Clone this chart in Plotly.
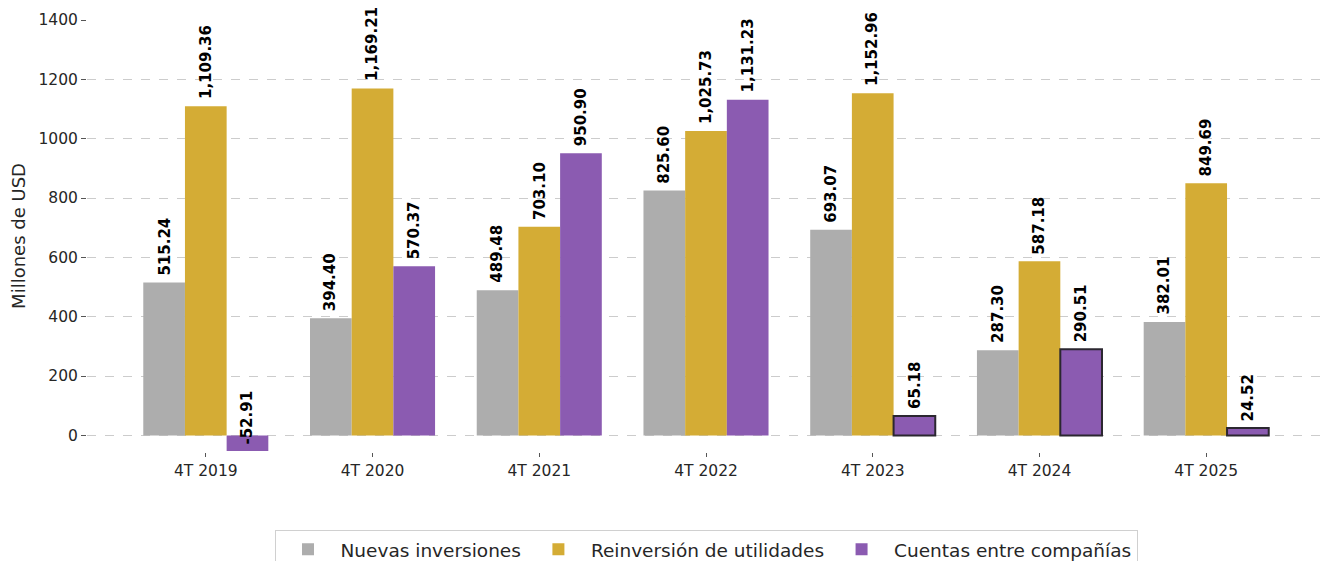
import plotly.graph_objects as go

categories = ["4T 2019", "4T 2020", "4T 2021", "4T 2022", "4T 2023", "4T 2024", "4T 2025"]
nuevas = [515.24, 394.40, 489.48, 825.60, 693.07, 287.30, 382.01]
reinversion = [1109.36, 1169.21, 703.10, 1025.73, 1152.96, 587.18, 849.69]
cuentas = [-52.91, 570.37, 950.90, 1131.23, 65.18, 290.51, 24.52]
outlined = [False, False, False, False, True, True, True]

series = [
    ("Nuevas inversiones", nuevas, "#adadad"),
    ("Reinversión de utilidades", reinversion, "#d4ac35"),
    ("Cuentas entre compañías", cuentas, "#8b5bb1"),
]

fig = go.Figure()
for j, (name, vals, col) in enumerate(series):
    if j == 2:
        lw = [2 if o else 0 for o in outlined]
        lc = ["#2b2730" if o else col for o in outlined]
    else:
        lw = 0
        lc = col
    fig.add_trace(go.Bar(
        x=categories, y=vals, name=name,
        marker=dict(color=col, line=dict(color=lc, width=lw)),
    ))

annotations = []
for j, (name, vals, col) in enumerate(series):
    off = (j - 1) * 0.25
    for i, v in enumerate(vals):
        annotations.append(dict(
            x=i + off, y=v, xref="x", yref="y",
            text=f"{v:,.2f}", textangle=-90, showarrow=False,
            yanchor="bottom", xanchor="center", yshift=5,
            font=dict(family="DejaVu Sans", size=15, color="#000000", weight="bold"),
        ))

fig.update_layout(
    width=1323, height=553,
    margin=dict(l=79, r=6, t=12, b=109, autoexpand=False),
    paper_bgcolor="white", plot_bgcolor="white",
    barmode="group", bargap=0.25, bargroupgap=0,
    font=dict(family="DejaVu Sans", size=15, color="#262626"),
    annotations=annotations,
    showlegend=True,
    legend=dict(
        orientation="h", x=0.5, xanchor="center", y=-0.18, yanchor="top",
        font=dict(size=18.5, color="#262626"),
        bordercolor="#d0d0d0", borderwidth=1, bgcolor="white",
        itemwidth=55, valign="top",
    ),
    xaxis=dict(
        range=[-0.7125, 6.7125], showgrid=False, showline=False, zeroline=False,
        ticks="outside", ticklen=4, tickcolor="#555555", tickwidth=1,
        tickfont=dict(size=15.5, color="#262626"),
    ),
    yaxis=dict(
        range=[-56, 1400], tickvals=[0, 200, 400, 600, 800, 1000, 1200, 1400],
        showgrid=True, gridcolor="#cccccc", griddash="dash", gridwidth=1,
        showline=False, zeroline=False,
        ticks="outside", ticklen=5, tickcolor="#555555", tickwidth=1,
        tickfont=dict(size=15.5, color="#262626"),
        title=dict(text="Millones de USD", font=dict(size=18, color="#262626"), standoff=12),
    ),
)

fig.write_html("out.html")
